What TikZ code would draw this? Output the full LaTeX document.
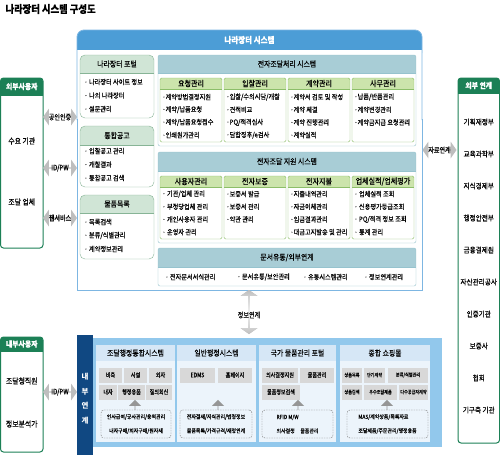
\documentclass[tikz,border=0pt]{standalone}
\usepackage{fontspec}
\setmainfont{Noto Sans CJK KR}
\newfontfamily\nfont[FakeStretch=0.88, FakeBold=0.3]{Noto Sans CJK KR}
\newfontfamily\cfont[FakeStretch=0.8, FakeBold=0.3]{Noto Sans CJK KR}
\usetikzlibrary{shapes.arrows}
\definecolor{NaraBlue}{RGB}{76,157,214}
\definecolor{NaraLine}{RGB}{125,182,226}
\definecolor{PortalHd}{RGB}{208,229,214}
\definecolor{PortalLine}{RGB}{135,180,150}
\definecolor{PanelHd}{RGB}{168,205,214}
\definecolor{PanelLine}{RGB}{150,195,206}
\definecolor{SubHd}{RGB}{204,228,172}
\definecolor{SubLine}{RGB}{140,190,105}
\definecolor{UserGreen}{RGB}{28,128,86}
\definecolor{InnerNavy}{RGB}{16,72,130}
\definecolor{InnerPanel}{RGB}{146,200,236}
\definecolor{InnerHd}{RGB}{214,231,246}
\definecolor{InnerBody}{RGB}{236,244,251}
\definecolor{CellGray}{RGB}{216,216,216}
\definecolor{ArrGray}{RGB}{190,190,190}
\definecolor{ArrDark}{RGB}{150,150,150}

% box with a header strip: x1,y1,x2,y2,header bottom,header fill,body fill,line,radius
\newcommand{\kbox}[9]{%
  \begin{scope}
    \clip[rounded corners=#9] (#1,#2) rectangle (#3,#4);
    \fill[#6] (#1,#2) rectangle (#3,#5);
    \fill[#7] (#1,#5) rectangle (#3,#4);
  \end{scope}
  \draw[#8, rounded corners=#9] (#1,#2) rectangle (#3,#4);
  \draw[#8] (#1,#5) -- (#3,#5);
}

\tikzset{%
  ttl/.style    ={font=\nfont\bfseries\fontsize{10.6}{11}\selectfont},
  sysHd/.style  ={text=white, inner sep=0pt, font=\nfont\bfseries\fontsize{8.5}{9}\selectfont},
  hd/.style     ={inner sep=0pt, font=\nfont\fontsize{7.8}{8}\selectfont},
  subHd/.style  ={inner sep=0pt, font=\nfont\fontsize{8}{8}\selectfont},
  item/.style   ={anchor=west, inner sep=0pt, font=\nfont\fontsize{7}{7}\selectfont},
  usrHd/.style  ={text=white, inner sep=0pt, font=\nfont\bfseries\fontsize{7.8}{8}\selectfont},
  usr/.style    ={inner sep=0pt, font=\nfont\fontsize{7.8}{8}\selectfont},
  org/.style    ={inner sep=0pt, font=\nfont\fontsize{7.5}{8}\selectfont},
  darr/.style   ={double arrow, fill=ArrGray, minimum width=17pt, minimum height=34pt,
                  double arrow head extend=2.5pt, double arrow tip angle=110, inner sep=0pt},
  arrTx/.style  ={inner sep=0pt, font=\cfont\fontsize{7.6}{8}\selectfont},
  uparr/.style  ={single arrow, shape border rotate=90, fill=ArrDark, minimum width=12pt,
                  minimum height=10pt, single arrow head extend=3pt, inner sep=0pt},
  cell/.style   ={fill=CellGray, minimum height=15pt, inner sep=0pt,
                  font=\cfont\fontsize{6.3}{7}\selectfont},
  dashbox/.style={draw=black!55, dash pattern=on 1.5pt off 1pt, rounded corners=3pt,
                  minimum height=28pt, inner sep=0pt, font=\nfont\fontsize{5.6}{14}\selectfont},
  navyTx/.style ={text=white, align=center, inner sep=0pt,
                  font=\bfseries\fontsize{7.5}{14.5}\selectfont}
}

\begin{document}
\begin{tikzpicture}[x=1pt, y=-1pt]
  \useasboundingbox (0,0) rectangle (500,455);
  \node[ttl, anchor=west] (title) at (2,9) {나라장터 시스템 구성도};

  % external users
  \kbox{0.5}{78}{43}{248}{95}{UserGreen}{white}{UserGreen, line width=1pt}{3pt}
  \node[usrHd] (extHd) at (21.75,86.5) {외부사용자};
  \node[usr] (demand) at (21.75,141) {수요 기관};
  \node[usr] (supply) at (21.75,202) {조달 업체};
  \node[darr] (cert) at (60,117) {};
  \node[arrTx] (certTx) at (cert) {공인인증};
  \node[darr] (idpw) at (60,168) {};
  \node[arrTx] (idpwTx) at (idpw) {ID/PW};
  \node[darr] (websvc) at (60,218) {};
  \node[arrTx] (websvcTx) at (websvc) {웹서비스};

  % main system
  \fill[NaraBlue, rounded corners=7pt] (77,60) -- (77,30) -- (422,30) -- (422,60) -- cycle;
  \fill[white] (77,50) rectangle (422,290);
  \draw[NaraLine, line width=0.8pt, rounded corners=7pt] (77,120) -- (77,30) -- (422,30) -- (422,120);
  \draw[NaraLine, line width=0.8pt] (77,119) -- (77,290) -- (422,290) -- (422,119);
  \node[sysHd] (sysHd) at (249.5,40) {나라장터 시스템};

  % portal column
  \kbox{80}{55}{154}{118}{73}{PortalHd}{white}{PortalLine}{5pt}
  \node[hd] (p1h) at (117,64) {나라장터 포털};
  \foreach \t [count=\i] in {· 나라장터 사이트 정보, · 나의 나라장터, · 설문관리}
    \node[item] (p1\i) at (84,{82+13.5*(\i-1)}) {\t};
  \kbox{80}{126}{154}{187}{145}{PortalHd}{white}{PortalLine}{5pt}
  \node[hd] (p2h) at (117,135.5) {통합공고};
  \foreach \t [count=\i] in {· 입찰공고 관리, · 개찰결과, · 통합공고 검색}
    \node[item] (p2\i) at (84,{151+13.5*(\i-1)}) {\t};
  \kbox{80}{195}{154}{259}{213}{PortalHd}{white}{PortalLine}{5pt}
  \node[hd] (p3h) at (117,204) {물품목록};
  \foreach \t [count=\i] in {· 목록검색, · 분류/식별관리, · 계약정보관리}
    \node[item] (p3\i) at (84,{222+13.5*(\i-1)}) {\t};

  % e-procurement processing
  \kbox{158}{55}{416}{146}{73}{PanelHd}{white}{PanelLine}{2pt}
  \node[hd] (pAh) at (287,64) {전자조달처리 시스템};
  \foreach \x/\t [count=\i] in {160/요청관리, 224/입찰관리, 288/계약관리, 352/사무관리}{
    \kbox{\x}{78}{\x+62}{142}{89}{SubHd}{white}{SubLine}{1.5pt}
    \node[subHd] (ah\i) at (\x+31,83.5) {\t};
  }
  \foreach \t [count=\i] in {·계약방법결정지원, ·계약/납품요청, ·계약/납품요청접수, ·인쇄원가관리}
    \node[item] (a1\i) at (162,{97+12.7*(\i-1)}) {\t};
  \foreach \t [count=\i] in {·입찰/수의시담/개찰, ·견적비교, ·PQ/적격심사, ·담합징후/e검사}
    \node[item] (a2\i) at (226,{97+12.7*(\i-1)}) {\t};
  \foreach \t [count=\i] in {·계약서 검토 및 작성, ·계약 체결, ·계약 진행관리, ·계약실적}
    \node[item] (a3\i) at (290,{97+12.7*(\i-1)}) {\t};
  \foreach \t [count=\i] in {·납품/반품관리, ·계약변경관리, ·계약금지급 요청관리}
    \node[item] (a4\i) at (354,{97+12.7*(\i-1)}) {\t};

  % e-procurement support
  \kbox{158}{152}{416}{243}{171}{PanelHd}{white}{PanelLine}{2pt}
  \node[hd] (pBh) at (287,161.5) {전자조달 지원 시스템};
  \foreach \x/\t [count=\i] in {160/사용자관리, 224/전자보증, 288/전자지불, 352/{업체실적/업체평가}}{
    \kbox{\x}{176}{\x+62}{239}{187}{SubHd}{white}{SubLine}{1.5pt}
    \node[subHd] (bh\i) at (\x+31,181.5) {\t};
  }
  \foreach \t [count=\i] in {· 기관/업체 관리, · 부정당업체 관리, · 개인사용자 관리, · 운영자 관리}
    \node[item] (b1\i) at (162,{194+12.7*(\i-1)}) {\t};
  \foreach \t [count=\i] in {·보증서 발급, ·보증서 관리, ·약관 관리}
    \node[item] (b2\i) at (226,{194+12.7*(\i-1)}) {\t};
  \foreach \t [count=\i] in {·지출내역관리, ·자금이체관리, ·임금결과관리, ·대금고지발송 및 관리}
    \node[item] (b3\i) at (290,{194+12.7*(\i-1)}) {\t};
  \foreach \t [count=\i] in {· 업체실적 조회, · 신용평가등급조회, · PQ/적격 정보 조회, · 통계 관리}
    \node[item] (b4\i) at (354,{194+12.7*(\i-1)}) {\t};

  % document flow
  \kbox{158}{248}{416}{286}{267}{PanelHd}{white}{PanelLine}{2pt}
  \node[hd] (pCh) at (287,257.5) {문서유통/외부연계};
  \foreach \x/\t [count=\i] in {165/· 전자문서서식관리, 237/{· 문서유통/보안관리}, 303/· 유통시스템관리, 364/· 정보연계관리}
    \node[item] (c\i) at (\x,277) {\t};

  % external links
  \node[darr] (dataLink) at (439.5,150) {};
  \node[arrTx] (dataLinkTx) at (dataLink) {자료연계};
  \kbox{458}{78}{499.5}{443}{93}{UserGreen}{white}{UserGreen, line width=1pt}{3pt}
  \node[usrHd] (orgHd) at (478.75,85.5) {외부 연계};
  \foreach \t [count=\i] in {기획재정부, 교육과학부, 지식경제부, 행정안전부, 금융결제원, 자산관리공사, 인증기관, 보증사, 협회, 기구축 기관}
    \node[org] (o\i) at (478.75,{122+32*(\i-1)}) {\t};

  \node[darr, shape border rotate=90, minimum height=44pt, minimum width=17pt,
        top color=ArrGray, bottom color=ArrGray, middle color=white] (infoArr) at (249,312) {};
  \node[arrTx] (infoTx) at (249,315) {정보연계};

  % internal users
  \kbox{0.5}{337}{43}{452}{351}{UserGreen}{white}{UserGreen, line width=1pt}{3pt}
  \node[usrHd] (intHd) at (21.75,344) {내부사용자};
  \node[usr] (staff) at (21.75,381) {조달청직원};
  \node[usr] (analyst) at (21.75,424) {정보분석가};
  \node[darr] (idpw2) at (60,392) {};
  \node[arrTx] (idpw2Tx) at (idpw2) {ID/PW};

  % internal systems
  \fill[InnerPanel] (93,338) rectangle (442,447);
  \fill[InnerNavy] (77,335) rectangle (93,455);
  \node[navyTx] (innerTx) at (85,398.5) {내\\부\\연\\계};
  \foreach \xa/\xb/\t [count=\i] in {96/175/조달행정통합시스템, 177/256/일반행정시스템, 259/336/국가 물품관리 포털, 340/430/종합 쇼핑몰}{
    \kbox{\xa}{345}{\xb}{442}{361}{InnerHd}{InnerBody}{draw=none}{0pt}
    \node[hd] (sh\i) at ({(\xa+\xb)/2},353) {\t};
  }
  \foreach \c/\r/\w/\t [count=\i] in {110.5/375/23/비축, 135.5/375/23/시설, 160.5/375/23/외자,
      108/392/18/내자, 131.5/392/27/행정용품, 159/392/26/질의회신}
    \node[cell, minimum width=\w] (ca\i) at (\c,\r) {\t};
  \foreach \c/\r/\w/\t [count=\i] in {197.5/375/35/EDMS, 235/375/34/홈페이지}
    \node[cell, minimum width=\w] (cb\i) at (\c,\r) {\t};
  \foreach \c/\r/\w/\t [count=\i] in {280/375/36/의사결정지원, 317/375/34/물품관리, 281/392/38/물품정보검색}
    \node[cell, minimum width=\w] (cc\i) at (\c,\r) {\t};
  \foreach \c/\r/\w/\t [count=\i] in {352/375/20/상품목록, 374.5/375/21/단기계약, 408/375/40/{분류/식별관리},
      352/392/20/상품검색, 380.5/392/33/우수조달제품, 413.5/392/29/다수공급자계약}
    \node[cell, minimum width=\w, font=\cfont\fontsize{5.1}{6}\selectfont] (cd\i) at (\c,\r) {\t};
  \foreach \x [count=\i] in {135,218,298,387}
    \node[uparr] (ua\i) at (\x,405) {};
  \node[dashbox, minimum width=70, align=center] (da1) at (136,424) {인사급여/공사관리/용역관리\\내자구매/외자구매/원자재};
  \node[dashbox, minimum width=72, align=center] (da2) at (216,424) {전자결재/지식관리/법령정보\\물품목록/가격규격/재정연계};
  \node[dashbox, minimum width=71, align=left] (da3) at (297.5,424) {RFID M/W\\의사결정\quad 물품관리};
  \node[dashbox, minimum width=81, align=left] (da4) at (387.5,424) {MAS/계약상품/목록자료\\조달제품/주문관리/행정용품};
\end{tikzpicture}
\end{document}
